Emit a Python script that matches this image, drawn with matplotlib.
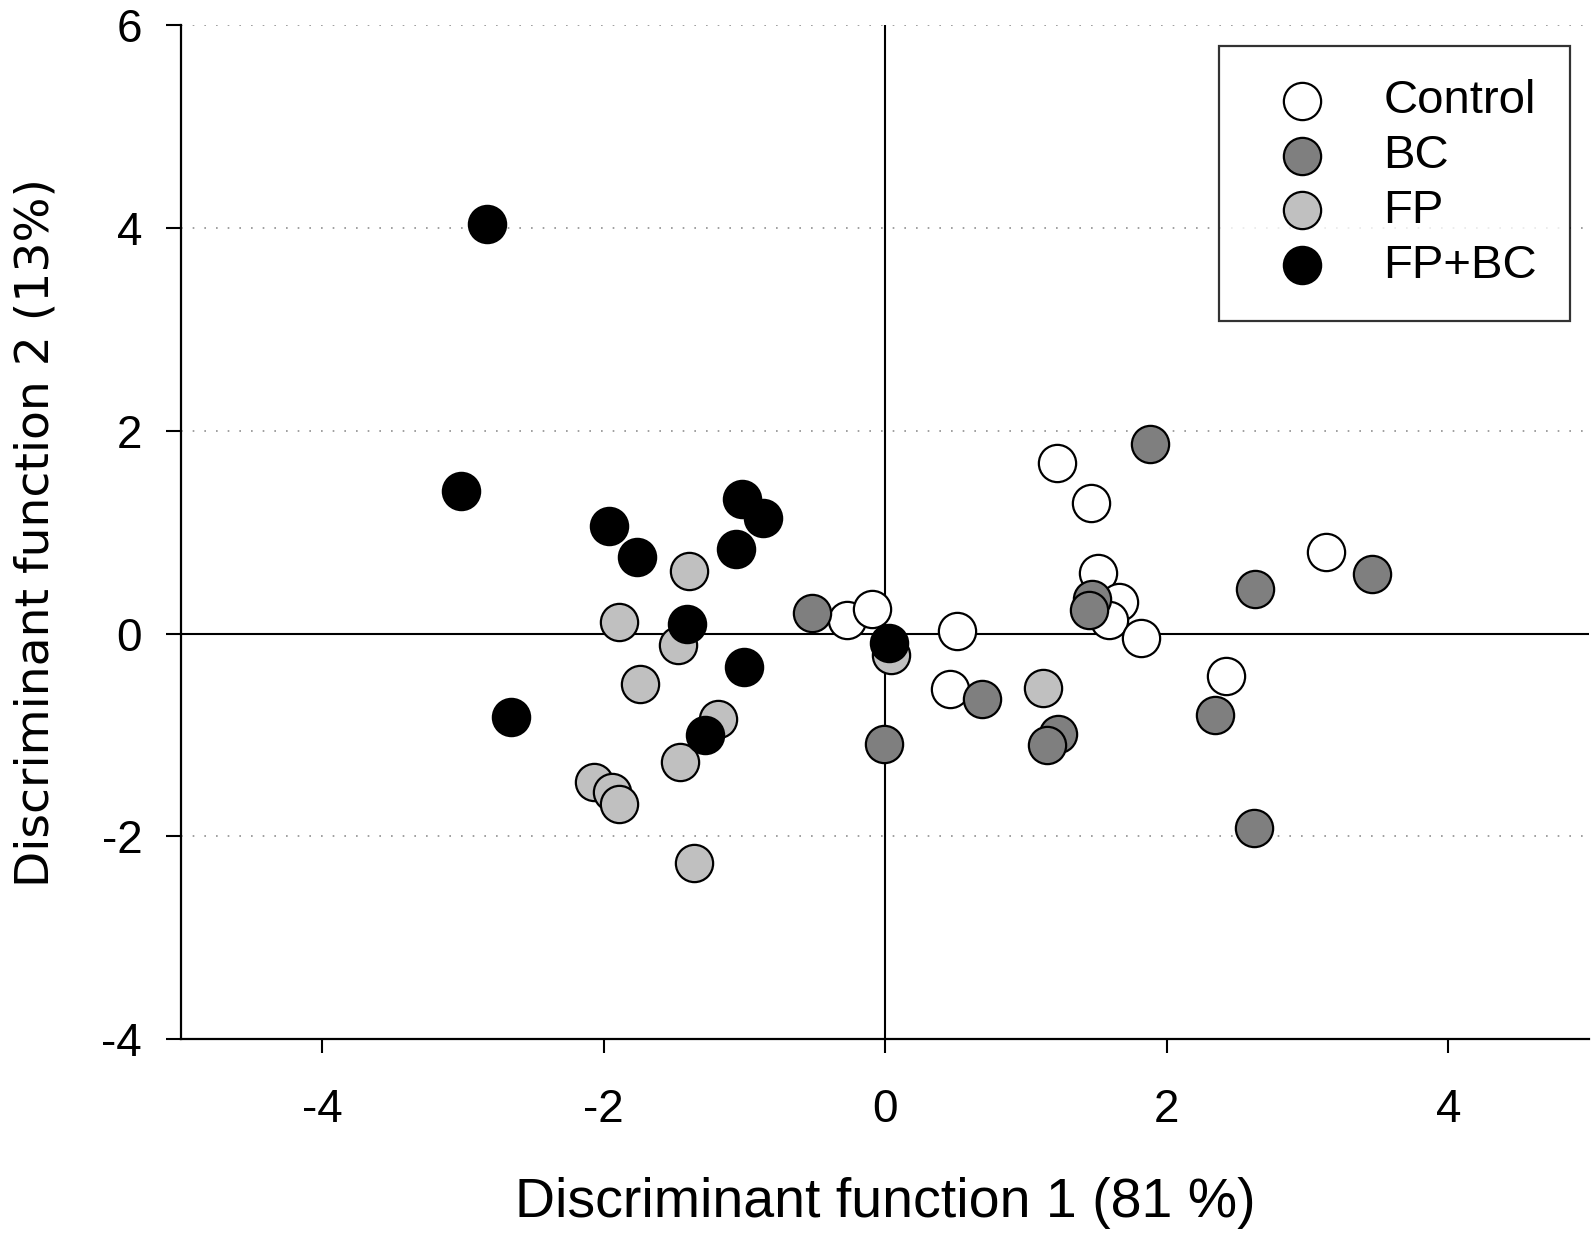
import matplotlib
matplotlib.use("Agg")
import matplotlib.pyplot as plt

plt.rcParams["font.family"] = ["Liberation Sans", "DejaVu Sans"]
plt.rcParams["axes.unicode_minus"] = False

# DATA
groups = ["Control", "BC", "FP", "FP+BC"]
colors = ["#ffffff", "#7f7f7f", "#c0c0c0", "#000000"]

control_x = [-0.27, -0.09, 0.51, 0.46, 1.22, 1.46, 1.51, 1.66, 1.59, 1.82, 3.13, 2.42]
control_y = [0.13, 0.24, 0.03, -0.55, 1.68, 1.29, 0.60, 0.31, 0.13, -0.04, 0.80, -0.42]

bc_x = [-0.52, 0.69, 1.23, 1.15, -0.01, 1.88, 1.47, 1.45, 2.63, 3.46, 2.34, 2.62]
bc_y = [0.20, -0.65, -0.99, -1.10, -1.09, 1.87, 0.34, 0.23, 0.44, 0.59, -0.80, -1.92]

fp_x = [-1.39, -1.89, -1.47, -1.74, -1.19, -1.46, -2.07, -1.94, -1.89, -1.36, 0.04, 1.12]
fp_y = [0.62, 0.11, -0.11, -0.50, -0.84, -1.27, -1.46, -1.56, -1.68, -2.26, -0.21, -0.54]

fpbc_x = [-2.83, -3.01, -1.96, -1.76, -1.02, -0.87, -1.06, -1.41, -1.00, -2.66, -1.28, 0.03]
fpbc_y = [4.04, 1.41, 1.06, 0.76, 1.33, 1.14, 0.83, 0.09, -0.33, -0.82, -1.00, -0.09]

xs = [control_x, bc_x, fp_x, fpbc_x]
ys = [control_y, bc_y, fp_y, fpbc_y]

x_ticks = [-4, -2, 0, 2, 4]
y_ticks = [-4, -2, 0, 2, 4, 6]
grid_y = [-2, 2, 4, 6]

# FIGURE
fig = plt.figure(figsize=(15.94, 12.36), dpi=100)
ax = fig.add_axes([0.1136, 0.1594, 0.8834, 0.82])

ax.set_xlim(-5, 5)
ax.set_ylim(-4, 6)

for gy in grid_y:
    ax.axhline(gy, color="#909090", linewidth=1.2, linestyle=(0, (1, 6)), zorder=0)
ax.axhline(0, color="black", linewidth=1.5, zorder=1)
ax.axvline(0, color="black", linewidth=1.5, zorder=1)

for i in range(len(groups)):
    ax.scatter(xs[i], ys[i], s=720, c=colors[i], edgecolors="black",
               linewidths=1.6, label=groups[i], zorder=3 + i)

ax.spines["top"].set_visible(False)
ax.spines["right"].set_visible(False)
ax.spines["left"].set_linewidth(1.6)
ax.spines["bottom"].set_linewidth(1.6)

ax.set_xticks(x_ticks)
ax.set_yticks(y_ticks)
ax.tick_params(axis="both", direction="out", width=1.5, labelsize=33)
ax.tick_params(axis="y", length=11, pad=17)
ax.tick_params(axis="x", length=10, pad=25)

ax.set_xlabel("Discriminant function 1 (81 %)", fontsize=40)
ax.xaxis.set_label_coords(0.5, -0.136)
ax.set_ylabel("Discriminant function 2 (13%)", fontsize=34, family=["DejaVu Sans"])
ax.yaxis.set_label_coords(-0.087, 0.5)

leg = ax.legend(loc="upper right", bbox_to_anchor=(0.9865, 0.9797), borderaxespad=0,
                fontsize=34, frameon=True, fancybox=False, edgecolor="black",
                borderpad=0.7, labelspacing=0.23, handlelength=2.1, handletextpad=0.68,
                scatterpoints=1)
leg.get_frame().set_linewidth(1.6)

plt.savefig("out.png", dpi=100)
